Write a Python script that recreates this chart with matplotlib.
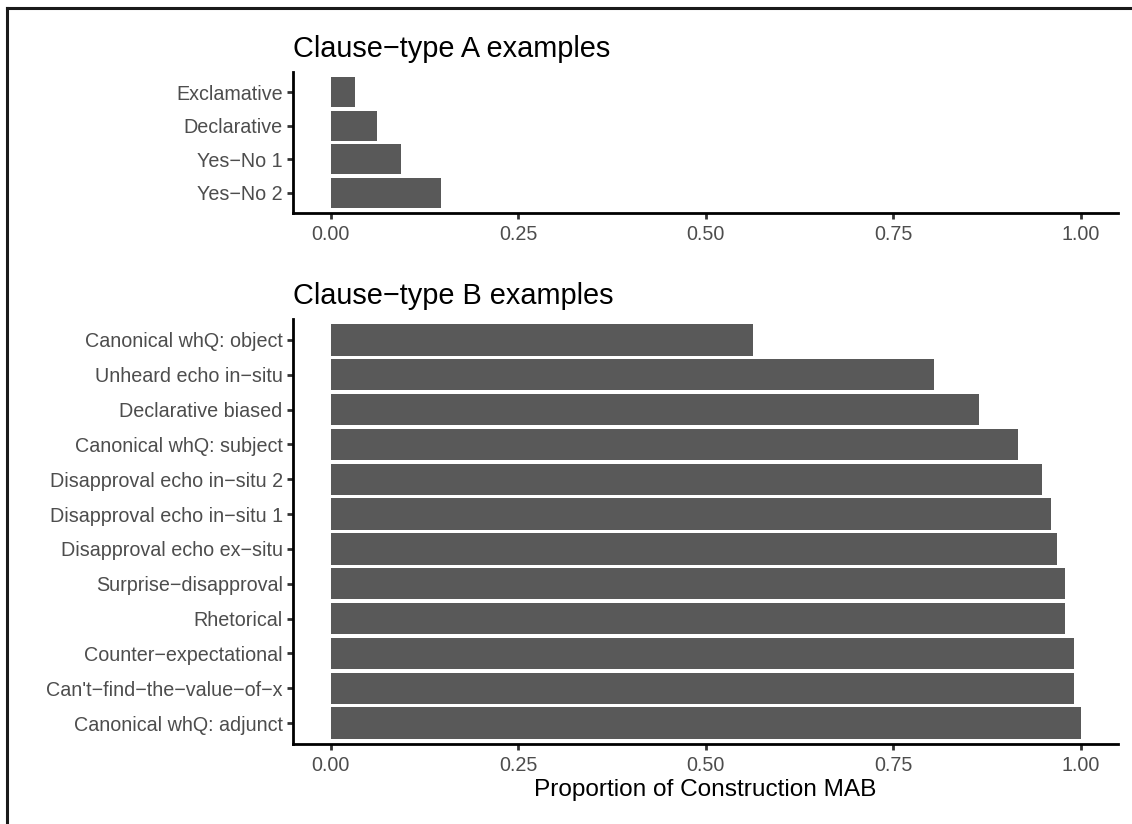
import matplotlib
matplotlib.use('Agg')
import matplotlib.pyplot as plt
from matplotlib.lines import Line2D

plt.rcParams['font.family'] = ['Liberation Sans', 'DejaVu Sans']

# Clause-type A (listed top to bottom as in the chart)
labels_a = ['Exclamative', 'Declarative', 'Yes\u2212No 1', 'Yes\u2212No 2']
values_a = [0.032, 0.062, 0.094, 0.147]

# Clause-type B (top to bottom)
labels_b = ['Canonical whQ: object', 'Unheard echo in\u2212situ', 'Declarative biased',
            'Canonical whQ: subject', 'Disapproval echo in\u2212situ 2',
            'Disapproval echo in\u2212situ 1', 'Disapproval echo ex\u2212situ',
            'Surprise\u2212disapproval', 'Rhetorical', 'Counter\u2212expectational',
            "Can't\u2212find\u2212the\u2212value\u2212of\u2212x", 'Canonical whQ: adjunct']
values_b = [0.563, 0.804, 0.865, 0.917, 0.949, 0.960, 0.969, 0.979, 0.979, 0.991, 0.991, 1.0]

xticks = [0.0, 0.25, 0.5, 0.75, 1.0]
xticklabels = ['0.00', '0.25', '0.50', '0.75', '1.00']

W, H = 1132, 824
fig = plt.figure(figsize=(W / 100, H / 100), dpi=100)

ax_a = fig.add_axes([293 / W, 1 - 213 / H, (1118 - 293) / W, (213 - 72) / H])
ax_b = fig.add_axes([293 / W, 1 - 744 / H, (1118 - 293) / W, (744 - 319) / H])


def style(ax, labels, values, title):
    pos = list(range(len(labels)))
    ax.barh(pos, values, height=0.9, color='#595959')
    ax.set_yticks(pos)
    ax.set_yticklabels(labels)
    ax.set_ylim(len(labels) - 0.4, -0.6)
    ax.set_xlim(-0.05, 1.05)
    ax.set_xticks(xticks)
    ax.set_xticklabels(xticklabels)
    for s in ['top', 'right']:
        ax.spines[s].set_visible(False)
    for s in ['left', 'bottom']:
        ax.spines[s].set_linewidth(2.0)
        ax.spines[s].set_color('black')
    ax.tick_params(axis='both', length=4.1, width=2.0, color='#333333',
                   labelcolor='#4D4D4D', labelsize=14.2, pad=3.3)
    ax.tick_params(axis='x', pad=4.5)
    ax.set_title(title, loc='left', fontsize=20.8, color='black', pad=11)


style(ax_a, labels_a, values_a, 'Clause\u2212type A examples')
style(ax_b, labels_b, values_b, 'Clause\u2212type B examples')
ax_b.set_xlabel('Proportion of Construction MAB', fontsize=17.6, color='black', labelpad=3)

# outer frame (left and top edges visible)
fig.add_artist(Line2D([7 / W, 7 / W], [0, 1 - 8 / H], transform=fig.transFigure,
                      color='#1a1a1a', linewidth=2.2))
fig.add_artist(Line2D([7 / W, 1], [1 - 8 / H, 1 - 8 / H], transform=fig.transFigure,
                      color='#1a1a1a', linewidth=2.2))

fig.savefig('out.png', dpi=100)
